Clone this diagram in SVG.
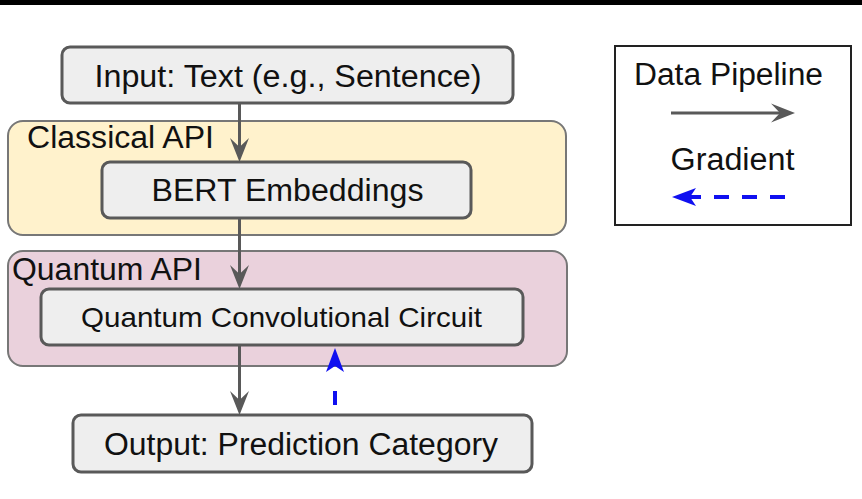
<svg xmlns="http://www.w3.org/2000/svg" width="862" height="499" viewBox="0 0 862 499">
  <style>
    .lbl { font-family: "Liberation Sans", Arial, sans-serif; font-size: 31px; fill: #111; }
    .node rect { fill: #eeeeee; stroke: #595959; stroke-width: 3; }
    .group rect { stroke: #777; stroke-width: 2; }
    .flow { stroke: #595959; stroke-width: 3; fill: none; }
    .grad { stroke: #1010f0; stroke-width: 4; fill: none; }
  </style>
  <defs>
    <marker id="arrowGray" viewBox="-26 -11 28 22" refX="-12" refY="0" markerWidth="28" markerHeight="22" markerUnits="userSpaceOnUse" orient="auto">
      <path d="M0,0 L-24,-9.5 L-15,0 L-24,9.5 Z" fill="#595959"/>
    </marker>
    <marker id="arrowBlue" viewBox="-26 -11 28 22" refX="-12" refY="0" markerWidth="28" markerHeight="22" markerUnits="userSpaceOnUse" orient="auto">
      <path d="M0,0 L-24,-9 L-18,0 L-24,9 Z" fill="#1010f0"/>
    </marker>
  </defs>

  <rect x="0" y="0" width="862" height="499" fill="#ffffff"/>
  <rect x="0" y="0" width="862" height="5" fill="#000"/>

  <!-- API containers -->
  <g id="classical-api" class="group">
    <rect x="8" y="121" width="558" height="114" rx="15" fill="#fff2cc"/>
    <text class="lbl" x="27" y="148" textLength="187" lengthAdjust="spacingAndGlyphs">Classical API</text>
  </g>
  <g id="quantum-api" class="group">
    <rect x="8" y="251" width="559" height="115" rx="15" fill="#ead1dc"/>
    <text class="lbl" x="12" y="280" textLength="190" lengthAdjust="spacingAndGlyphs">Quantum API</text>
  </g>

  <!-- Pipeline nodes -->
  <g id="input" class="node">
    <rect x="62" y="47" width="451" height="56" rx="8"/>
    <text class="lbl" x="288" y="87" text-anchor="middle" textLength="387" lengthAdjust="spacingAndGlyphs">Input: Text (e.g., Sentence)</text>
  </g>
  <g id="bert" class="node">
    <rect x="102" y="162" width="369" height="56" rx="8"/>
    <text class="lbl" x="287.5" y="201" text-anchor="middle" textLength="272" lengthAdjust="spacingAndGlyphs">BERT Embeddings</text>
  </g>
  <g id="qcircuit" class="node">
    <rect x="41" y="289" width="482" height="56" rx="8"/>
    <text class="lbl" x="281.5" y="327" text-anchor="middle" style="font-size:28.5px" textLength="401" lengthAdjust="spacingAndGlyphs">Quantum Convolutional Circuit</text>
  </g>
  <g id="output" class="node">
    <rect x="73" y="415" width="459" height="57" rx="8"/>
    <text class="lbl" x="301" y="455" text-anchor="middle" textLength="394" lengthAdjust="spacingAndGlyphs">Output: Prediction Category</text>
  </g>

  <!-- Connectors -->
  <g id="connectors">
    <line class="flow" x1="239.5" y1="103" x2="239.5" y2="150" marker-end="url(#arrowGray)"/>
    <line class="flow" x1="239.5" y1="218" x2="239.5" y2="277" marker-end="url(#arrowGray)"/>
    <line class="flow" x1="239.5" y1="345" x2="239.5" y2="403" marker-end="url(#arrowGray)"/>
    <line class="grad" x1="335" y1="405" x2="335" y2="360" stroke-dasharray="14 100" marker-end="url(#arrowBlue)"/>
  </g>

  <!-- Legend -->
  <g id="legend">
    <rect x="615" y="46" width="236" height="179" fill="#fff" stroke="#222" stroke-width="2"/>
    <text class="lbl" x="728.5" y="85" text-anchor="middle" textLength="189" lengthAdjust="spacingAndGlyphs">Data Pipeline</text>
    <line class="flow" x1="671" y1="113" x2="783" y2="113" marker-end="url(#arrowGray)"/>
    <text class="lbl" x="732.5" y="170" text-anchor="middle" textLength="124" lengthAdjust="spacingAndGlyphs">Gradient</text>
    <line class="grad" x1="785" y1="197" x2="684" y2="197" stroke-dasharray="15 13" marker-end="url(#arrowBlue)"/>
  </g>
</svg>
